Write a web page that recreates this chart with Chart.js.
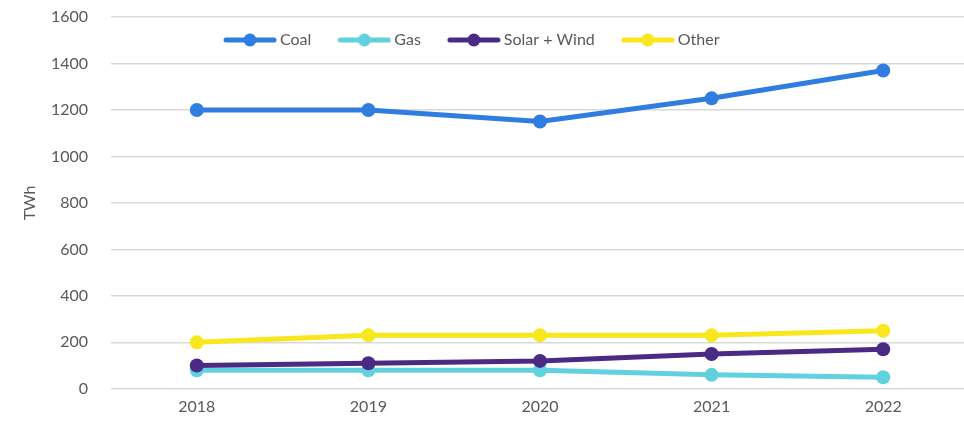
<!DOCTYPE html>
<html>
<head>
<meta charset="utf-8">
<script src="https://cdn.jsdelivr.net/npm/chart.js@4"></script>
<style>
  html, body { margin: 0; padding: 0; background: #fff; overflow: hidden; }
  #wrap { width: 976px; height: 429px; }
</style>
</head>
<body>
<div id="wrap"><canvas id="chart" width="976" height="429"></canvas></div>
<script>
// data
const years = ["2018", "2019", "2020", "2021", "2022"];
const coal = [1200, 1200, 1150, 1250, 1370];
const gas = [80, 80, 80, 60, 50];
const solarWind = [100, 110, 120, 150, 170];
const other = [200, 230, 230, 230, 250];
const yTicks = [0, 200, 400, 600, 800, 1000, 1200, 1400, 1600];

const TEXT = "#595959";
const FONT = "Lato, 'Open Sans', sans-serif";

// legend marker: line with a dot in the middle
function legendMarker(color) {
  const c = document.createElement("canvas");
  c.width = 54;
  c.height = 16;
  const g = c.getContext("2d");
  g.strokeStyle = color;
  g.lineWidth = 5;
  g.lineCap = "round";
  g.beginPath();
  g.moveTo(3, 8);
  g.lineTo(51, 8);
  g.stroke();
  g.fillStyle = color;
  g.beginPath();
  g.arc(27, 8, 6.5, 0, Math.PI * 2);
  g.fill();
  return c;
}

function series(label, data, color, order) {
  return {
    label,
    data,
    order,
    borderColor: color,
    backgroundColor: color,
    borderWidth: 5,
    pointRadius: 7,
    pointHoverRadius: 7,
    pointBorderWidth: 0,
    pointStyle: "circle",
    tension: 0,
    marker: legendMarker(color),
  };
}

const datasets = [
  series("Coal", coal, "#2f7ddf", 0),
  series("Gas", gas, "#62d1df", 2),
  series("Solar + Wind", solarWind, "#4a2a85", 1),
  series("Other", other, "#f8e71c", 3),
];

// legend sits inside the plot, in one row
const legendRow = {
  id: "legendRow",
  afterInit(chart) {
    chart.legend.isHorizontal = () => true;
  },
  afterLayout(chart) {
    const lg = chart.legend;
    lg.left = 197;
    lg.right = lg.left + 700;
    lg.top = 1;
  },
};

new Chart(document.getElementById("chart"), {
  type: "line",
  data: { labels: years, datasets },
  plugins: [legendRow],
  options: {
    responsive: false,
    animation: false,
    layout: { padding: { top: 17, right: 0, bottom: 13, left: 0 } },
    plugins: {
      tooltip: { enabled: false },
      legend: {
        position: "chartArea",
        align: "start",
        labels: {
          usePointStyle: true,
          pointStyleWidth: 44,
          padding: 31,
          color: TEXT,
          font: { family: FONT, size: 16 },
          generateLabels(chart) {
            return chart.data.datasets.map((ds, i) => ({
              text: ds.label,
              fontColor: TEXT,
              pointStyle: ds.marker,
              datasetIndex: i,
              hidden: false,
              lineWidth: 0,
            }));
          },
        },
      },
    },
    scales: {
      x: {
        offset: true,
        grid: { display: false },
        border: { display: false },
        ticks: { color: TEXT, font: { family: FONT, size: 16 }, padding: 0 },
      },
      y: {
        min: 0,
        max: 1600,
        afterFit(scale) { scale.width = 111; },
        afterBuildTicks(scale) { scale.ticks = yTicks.map(v => ({ value: v })); },
        grid: {
          color: "#d9d9d9",
          lineWidth: 1.5,
          drawTicks: true,
          tickLength: 22,
          tickColor: "rgba(0,0,0,0)",
        },
        border: { display: false },
        title: {
          display: true,
          text: "TWh",
          color: TEXT,
          font: { family: FONT, size: 16 },
          padding: { top: 20, bottom: 4 },
        },
        ticks: {
          color: TEXT,
          font: { family: FONT, size: 16 },
          padding: 1,
          callback: (v) => String(v),
        },
      },
    },
  },
});
</script>
</body>
</html>
